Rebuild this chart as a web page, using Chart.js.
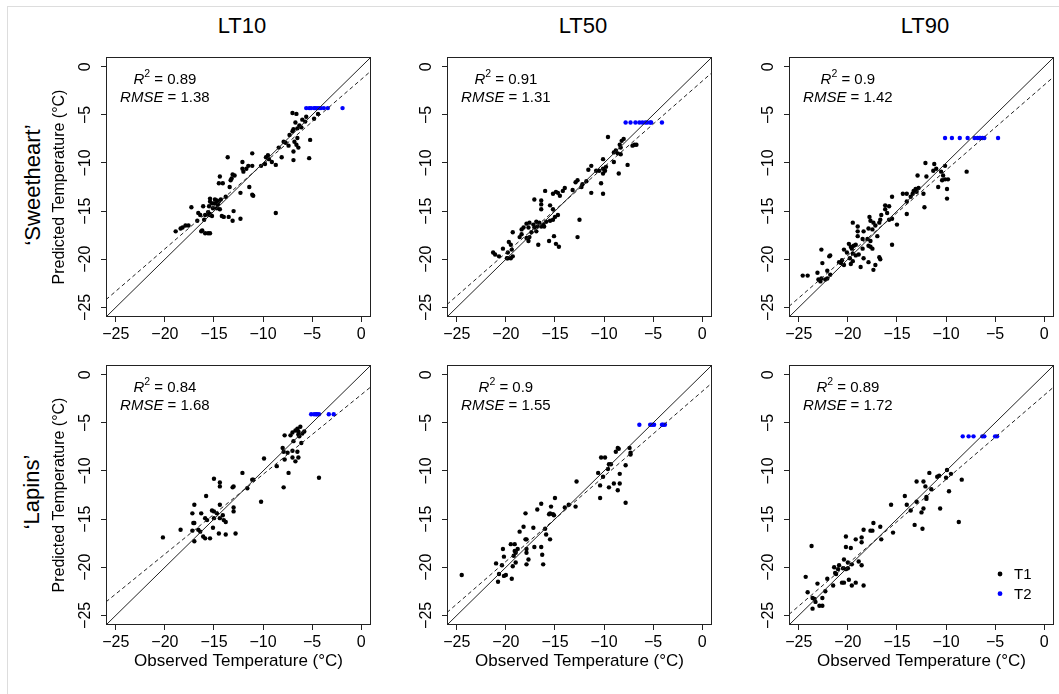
<!DOCTYPE html>
<html lang="en">
<head>
<meta charset="UTF-8">
<title>Observed vs predicted LT</title>
<script src="https://cdn.jsdelivr.net/npm/chart.js@4"></script>
<style>
  html, body { margin: 0; padding: 0; background: #fff; }
  body { width: 1059px; height: 694px; position: relative; overflow: hidden;
         font-family: 'Liberation Sans', Arial, Helvetica, sans-serif; color: #000; }
  .frame { position: absolute; left: 7px; top: 6px; right: 0; bottom: 0;
           border-left: 1px solid #ddd; border-top: 1px solid #ddd; }
  canvas { position: absolute; }
  .colTitle { position: absolute; font-size: 22px; transform: translate(-50%, -50%); white-space: nowrap; }
  .rowTitle { position: absolute; font-size: 22px; transform: translate(-50%, -50%) rotate(-90deg); white-space: nowrap; }
</style>
</head>
<body>
<div class="frame"></div>
<div class="colTitle" style="left:242px; top:26px">LT10</div>
<div class="colTitle" style="left:583px; top:26px">LT50</div>
<div class="colTitle" style="left:925px; top:26px">LT90</div>
<div class="rowTitle" style="left:33px; top:185px">‘Sweetheart’</div>
<div class="rowTitle" style="left:32px; top:492px">‘Lapins’</div>

<script>
// ---- data: [observed, predicted] in °C ----
const sweetLT10_T1 = [[-4.4,-4.9],[-4.8,-5.4],[-5.6,-5.2],[-6.0,-5.5],[-7.0,-4.8],[-6.6,-4.9],[-5.7,-5.7],[-6.7,-5.8],[-6.3,-6.1],[-6.5,-6.4],[-6.9,-6.5],[-7.0,-6.7],[-6.1,-6.3],[-7.3,-7.1],[-5.2,-7.6],[-6.5,-7.4],[-6.8,-7.8],[-7.7,-7.9],[-7.9,-7.8],[-7.4,-8.2],[-6.6,-8.1],[-6.4,-8.4],[-8.4,-8.4],[-6.9,-8.8],[-5.3,-9.5],[-6.9,-9.7],[-8.1,-9.4],[-9.5,-9.2],[-9.7,-9.4],[-9.4,-9.6],[-9.8,-10.1],[-9.1,-9.9],[-8.7,-10.2],[-10.2,-10.3],
  [-13.6,-9.4],[-11.1,-9.0],[-12.1,-9.9],[-11.5,-10.3],[-11.1,-10.3],[-11.7,-10.6],[-12.1,-10.6],[-12.0,-10.9],[-12.9,-11.3],[-13.1,-11.2],[-14.4,-11.4],[-13.2,-11.6],[-13.3,-11.8],[-14.5,-12.1],[-14.1,-12.1],[-11.4,-12.5],[-12.3,-13.1],[-11.1,-13.3],[-11.0,-13.4],[-13.4,-12.5],[-13.8,-13.5],[-14.3,-13.8],[-15.4,-13.7],[-15.4,-14.0],[-14.9,-13.8],[-14.7,-13.9],[-14.5,-14.0],[-15.2,-14.2],[-15.0,-14.2],[-14.8,-14.2],[-14.6,-14.3],[-15.5,-14.5],[-15.1,-14.7],[-14.7,-14.7],[-14.4,-14.8],[-16.1,-14.5],[-15.6,-15.1],[-16.6,-15.2],[-16.4,-15.4],[-15.9,-15.4],[-15.5,-15.4],[-15.4,-15.3],[-13.0,-15.0],[-14.2,-15.5],[-14.0,-15.6],[-13.5,-15.6],[-13.1,-16.0],[-12.3,-15.8],[-8.7,-15.2],[-16.0,-15.9],[-15.2,-15.5],[-17.3,-14.6],[-17.9,-16.5],[-18.2,-16.7],[-18.4,-16.8],[-18.9,-17.1],[-17.6,-16.5],[-16.3,-17.1],[-16.2,-17.0],[-15.9,-17.3],[-15.6,-17.3],[-15.4,-17.3],[-16.7,-16.0]];
const sweetLT10_T2 = [[-5.6,-4.3],[-5.3,-4.3],[-5.1,-4.3],[-4.8,-4.3],[-4.7,-4.3],[-4.5,-4.3],[-4.3,-4.3],[-4.1,-4.3],[-3.8,-4.3],[-3.4,-4.3],[-1.9,-4.3]];

const sweetLT50_T1 = [[-9.6,-7.3],[-8.0,-7.5],[-8.2,-7.7],[-8.4,-8.1],[-6.9,-8.1],[-6.7,-8.1],[-7.1,-8.2],[-8.3,-8.4],[-8.8,-8.7],[-9.0,-8.9],[-8.6,-9.0],[-8.3,-9.1],[-7.6,-10.2],[-10.1,-9.6],[-9.0,-9.9],[-9.8,-10.4],[-10.1,-10.6],[-9.9,-10.8],[-10.5,-10.8],[-10.8,-10.8],[-11.3,-10.3],[-11.6,-10.7],[-8.5,-11.1],[-10.1,-11.1],[-10.3,-12.1],[-11.8,-11.9],[-12.2,-12.2],[-12.3,-12.5],[-12.7,-11.8],[-12.9,-12.0],[-13.2,-12.8],[-11.3,-13.1],[-10.1,-13.2],[-14.0,-12.6],[-14.2,-12.9],[-14.9,-13.0],[-14.7,-13.1],[-14.5,-13.4],[-15.2,-13.2],[-16.0,-12.9],[-17.1,-13.8],[-16.4,-13.9],[-16.4,-14.3],[-16.4,-14.8],[-15.5,-14.4],[-15.2,-14.8],[-15.0,-15.6],[-14.7,-15.4],[-12.5,-15.9],[-12.7,-17.7],[-15.2,-15.9],[-15.5,-16.0],[-15.9,-16.1],[-16.2,-16.4],[-16.6,-16.2],[-16.9,-16.1],[-17.2,-16.4],[-17.6,-16.2],[-17.9,-16.3],[-18.2,-16.7],[-18.4,-16.9],[-17.7,-16.7],[-17.1,-16.7],[-16.8,-16.6],[-16.4,-16.6],[-16.1,-16.6],[-17.4,-17.2],[-16.9,-17.1],[-17.6,-17.7],[-17.9,-17.8],[-17.7,-18.1],[-16.7,-18.5],[-15.6,-18.1],[-15.1,-17.6],[-14.9,-18.4],[-14.6,-18.7],[-19.3,-17.2],[-18.4,-17.4],[-19.7,-18.2],[-19.5,-18.5],[-19.4,-19.0],[-19.8,-19.3],[-19.3,-19.7],[-19.5,-19.9],[-19.8,-19.9],[-19.9,-19.9],[-20.3,-18.9],[-20.7,-19.7],[-21.3,-19.3],[-21.1,-19.5],[-18.6,-17.7]];
const sweetLT50_T2 = [[-7.8,-5.8],[-7.3,-5.8],[-6.8,-5.8],[-6.4,-5.8],[-6.1,-5.8],[-5.8,-5.8],[-5.6,-5.8],[-5.3,-5.8],[-5.2,-5.8],[-4.1,-5.8]];

const sweetLT90_T1 = [[-12.1,-10.0],[-11.2,-10.1],[-10.1,-10.3],[-11.0,-10.6],[-11.3,-10.8],[-10.5,-10.9],[-10.3,-11.3],[-7.9,-10.9],[-10.1,-11.7],[-9.8,-11.7],[-10.4,-11.8],[-10.8,-12.5],[-9.9,-12.7],[-9.9,-13.7],[-12.9,-11.3],[-12.0,-11.4],[-12.8,-12.6],[-13.1,-12.7],[-13.3,-12.9],[-13.6,-13.5],[-13.4,-13.2],[-13.0,-13.0],[-12.3,-13.2],[-14.4,-13.2],[-14.0,-13.2],[-14.0,-14.0],[-12.2,-14.6],[-14.0,-15.3],[-15.5,-13.5],[-15.8,-14.5],[-16.2,-14.4],[-16.2,-14.8],[-16.0,-15.2],[-16.6,-15.4],[-16.7,-15.9],[-15.8,-15.9],[-15.5,-15.8],[-15.0,-16.4],[-15.5,-18.5],[-17.8,-15.6],[-17.7,-16.0],[-17.9,-16.8],[-17.4,-16.2],[-17.2,-16.5],[-17.0,-17.6],[-16.8,-16.2],[-17.5,-16.9],[-18.0,-17.9],[-17.9,-18.6],[-17.7,-18.7],[-17.5,-18.9],[-16.8,-19.8],[-16.7,-20.0],[-19.5,-16.2],[-19.0,-16.6],[-19.0,-17.1],[-19.0,-17.6],[-18.4,-17.1],[-18.5,-17.9],[-19.2,-18.5],[-19.4,-18.6],[-19.9,-18.4],[-19.7,-18.7],[-19.6,-18.9],[-20.4,-19.0],[-20.1,-19.3],[-19.5,-19.4],[-19.2,-19.6],[-18.9,-19.5],[-18.4,-19.9],[-18.5,-18.9],[-17.7,-18.1],[-19.8,-19.9],[-19.5,-20.2],[-20.6,-20.1],[-20.7,-20.4],[-20.4,-20.6],[-19.7,-20.5],[-18.7,-20.8],[-17.9,-20.3],[-17.2,-20.6],[-17.4,-21.1],[-21.9,-19.7],[-22.7,-19.0],[-21.8,-19.6],[-22.6,-20.4],[-20.9,-20.3],[-23.1,-21.4],[-22.1,-21.2],[-21.8,-21.6],[-24.6,-21.7],[-24.1,-21.7],[-23.0,-22.1],[-22.7,-22.0],[-22.3,-22.1],[-22.1,-22.0],[-22.8,-22.3]];
const sweetLT90_T2 = [[-10.1,-7.4],[-9.4,-7.4],[-8.6,-7.4],[-7.8,-7.4],[-7.1,-7.4],[-6.8,-7.4],[-6.6,-7.4],[-6.5,-7.4],[-6.3,-7.4],[-6.1,-7.4],[-4.7,-7.4]];

const lapinsLT10_T1 = [[-6.2,-5.4],[-6.5,-5.6],[-6.4,-5.9],[-6.7,-5.8],[-7.0,-6.0],[-5.8,-5.9],[-6.0,-6.1],[-6.4,-6.2],[-6.3,-6.4],[-7.8,-6.3],[-7.2,-6.3],[-6.9,-6.9],[-6.1,-7.1],[-8.0,-7.6],[-7.9,-8.0],[-7.5,-8.1],[-7.0,-7.9],[-6.5,-8.0],[-7.0,-8.6],[-6.4,-8.6],[-6.7,-9.0],[-7.8,-8.8],[-8.6,-9.5],[-7.4,-10.2],[-7.9,-11.7],[-9.9,-8.7],[-4.3,-10.7],[-11.1,-10.9],[-11.6,-11.8],[-12.1,-10.2],[-13.0,-11.6],[-13.1,-11.7],[-11.0,-10.9],[-10.2,-13.2],[-14.4,-11.2],[-14.4,-11.6],[-15.0,-10.8],[-15.8,-12.6],[-17.0,-13.5],[-14.4,-13.5],[-14.7,-14.4],[-15.2,-14.1],[-15.0,-14.2],[-13.0,-13.8],[-13.0,-14.2],[-14.1,-14.6],[-14.0,-15.1],[-13.8,-15.3],[-14.4,-14.9],[-15.0,-14.9],[-15.7,-15.1],[-15.9,-14.9],[-16.3,-14.4],[-17.2,-14.4],[-17.0,-15.4],[-17.1,-15.4],[-17.2,-16.2],[-16.6,-16.1],[-16.4,-16.3],[-18.4,-16.1],[-17.0,-17.3],[-16.1,-16.8],[-15.9,-17.0],[-15.4,-17.0],[-15.1,-15.9],[-14.5,-16.5],[-13.8,-16.6],[-12.8,-16.5],[-20.2,-16.9]];
const lapinsLT10_T2 = [[-5.1,-4.1],[-4.8,-4.1],[-4.6,-4.1],[-4.5,-4.1],[-4.3,-4.1],[-3.3,-4.1],[-2.8,-4.1]];

const lapinsLT50_T1 = [[-8.6,-7.6],[-8.5,-7.7],[-8.8,-8.0],[-7.4,-7.6],[-7.3,-8.1],[-7.3,-8.3],[-10.3,-8.6],[-9.9,-8.6],[-9.5,-9.3],[-9.3,-9.3],[-7.8,-9.4],[-9.6,-9.8],[-10.6,-10.2],[-10.1,-10.6],[-8.4,-10.3],[-10.4,-11.5],[-9.5,-11.7],[-9.0,-11.3],[-8.4,-11.3],[-8.6,-12.0],[-10.4,-12.8],[-7.8,-13.3],[-12.8,-11.1],[-12.9,-13.7],[-13.6,-13.5],[-14.0,-13.8],[-15.0,-12.8],[-15.4,-13.7],[-15.5,-14.4],[-15.6,-14.5],[-15.2,-14.5],[-15.1,-14.6],[-16.4,-13.4],[-16.8,-14.0],[-18.0,-14.4],[-17.2,-15.9],[-18.2,-15.8],[-18.6,-16.3],[-15.9,-16.6],[-16.0,-16.0],[-15.5,-17.1],[-17.9,-17.1],[-18.0,-17.1],[-19.5,-17.6],[-19.1,-17.6],[-20.3,-18.1],[-20.2,-18.9],[-19.1,-18.3],[-19.0,-18.5],[-18.8,-18.1],[-19.2,-18.8],[-19.0,-19.5],[-19.3,-19.9],[-17.9,-18.1],[-17.9,-18.5],[-17.7,-19.2],[-17.9,-19.7],[-17.1,-17.9],[-16.4,-17.9],[-16.3,-18.7],[-16.2,-19.7],[-21.0,-19.6],[-20.4,-19.8],[-20.7,-20.7],[-20.2,-20.9],[-20.0,-20.8],[-19.4,-21.2],[-20.8,-21.5],[-24.5,-20.8]];
const lapinsLT50_T2 = [[-6.4,-5.2],[-5.3,-5.2],[-5.1,-5.2],[-4.9,-5.2],[-4.1,-5.2],[-4.0,-5.2],[-3.8,-5.2]];

const lapinsLT90_T1 = [[-9.9,-9.9],[-9.5,-10.3],[-10.7,-10.5],[-10.9,-10.6],[-10.0,-10.7],[-8.4,-10.9],[-11.7,-10.2],[-13.0,-11.1],[-12.3,-11.1],[-12.1,-11.6],[-11.5,-11.9],[-9.7,-12.1],[-14.2,-12.6],[-12.0,-12.7],[-12.0,-12.9],[-13.0,-13.2],[-14.0,-13.5],[-13.6,-14.1],[-12.5,-14.3],[-12.3,-13.9],[-10.6,-13.9],[-15.6,-13.5],[-8.7,-15.3],[-13.2,-15.6],[-12.4,-16.0],[-15.4,-16.4],[-17.4,-15.4],[-16.7,-15.8],[-17.7,-16.2],[-17.5,-16.2],[-16.6,-17.1],[-18.4,-16.1],[-18.6,-16.9],[-19.2,-17.1],[-18.6,-17.4],[-20.2,-16.8],[-20.2,-17.9],[-19.7,-18.0],[-20.4,-19.2],[-18.9,-19.4],[-18.6,-19.8],[-19.6,-19.7],[-20.0,-19.5],[-20.2,-20.2],[-20.0,-20.1],[-20.5,-20.1],[-20.9,-19.8],[-21.0,-20.2],[-21.4,-20.0],[-21.3,-20.6],[-21.2,-20.7],[-20.6,-21.6],[-20.4,-21.6],[-19.6,-21.9],[-19.9,-21.3],[-19.2,-21.6],[-18.4,-21.9],[-21.5,-21.9],[-22.1,-21.2],[-23.1,-21.7],[-22.3,-22.5],[-22.6,-23.2],[-23.4,-23.3],[-23.3,-23.6],[-23.6,-24.3],[-22.9,-24.0],[-22.6,-24.0],[-23.7,-17.8],[-24.3,-21.0],[-24.1,-22.6],[-23.6,-23.2]];
const lapinsLT90_T2 = [[-8.3,-6.4],[-7.7,-6.4],[-7.2,-6.4],[-6.3,-6.4],[-6.1,-6.4],[-5.0,-6.4],[-4.8,-6.4]];

// fitted (dashed) line: predicted value at x = -26 and x = 1, panel order LT10, LT50, LT90 then Lapins
const fitAtLeft  = [-24.2, -24.7, -24.9, -23.6, -24.7, -24.9];
const fitAtRight = [-0.44, -0.61, -1.02, -1.25, -0.85, -1.25];
const r2Labels   = ['0.89', '0.91', '0.9', '0.84', '0.9', '0.89'];
const rmseLabels = ['1.38', '1.31', '1.42', '1.68', '1.55', '1.72'];
const tickValues = [-25, -20, -15, -10, -5, 0];
const legendLabels = ['T1', 'T2'];

// ---- layout ----
const FONT = "'Liberation Sans', Arial, Helvetica, sans-serif";
Chart.defaults.font.family = FONT;
Chart.defaults.color = '#000';
const S = 265;                  // plot box size
const colLeft = [106, 447, 789];
const rowTop = [52, 360];
const lineCol = '#222';

const fmt = v => (v < 0 ? '\u2212' + (-v) : String(v));
const setTicks = s => { s.ticks = tickValues.map(v => ({ value: v })); };

function drawParts(ctx, parts, cx, cy) {
    let total = 0;
    parts.forEach(p => { ctx.font = p.font; p.w = ctx.measureText(p.t).width; total += p.w; });
    let x = cx - total / 2;
    ctx.textAlign = 'left';
    ctx.textBaseline = 'middle';
    ctx.fillStyle = '#000';
    parts.forEach(p => { ctx.font = p.font; ctx.fillText(p.t, x, cy + (p.dy || 0)); x += p.w; });
}

function makePanel(idx, row, col, t1, t2, showLegend) {
    const L = colLeft[col], T = rowTop[row];
    const axisW = 66, padTop = 6, padRight = 6;
    const axisH = row === 1 ? 64 : 30;
    const cv = document.createElement('canvas');
    cv.width = axisW + S + padRight;
    cv.height = padTop + S + axisH;
    cv.style.left = (L - axisW) + 'px';
    cv.style.top = (T - padTop) + 'px';
    document.body.appendChild(cv);

    const boxPlugin = {
        id: 'box' + idx,
        afterDraw(chart) {
            const a = chart.chartArea, ctx = chart.ctx;
            const xs = chart.scales.x, ys = chart.scales.y;
            ctx.save();
            ctx.strokeStyle = lineCol;
            ctx.lineWidth = 1;
            ctx.strokeRect(Math.round(a.left) + 0.5, Math.round(a.top) + 0.5, Math.round(a.width) - 1, Math.round(a.height) - 1);

            const norm = '15px ' + FONT, ital = 'italic 15px ' + FONT, small = '10.5px ' + FONT;
            const cx = xs.getPixelForValue(-20);
            drawParts(ctx, [{ t: 'R', font: ital }, { t: '2', font: small, dy: -6 }, { t: ' = ' + r2Labels[idx], font: norm }],
                cx, ys.getPixelForValue(-1.35));
            drawParts(ctx, [{ t: 'RMSE', font: ital }, { t: ' = ' + rmseLabels[idx], font: norm }],
                cx, ys.getPixelForValue(-3.2));

            if (showLegend) {
                const lx = xs.getPixelForValue(-4.5);
                [[-20.7, '#000'], [-22.75, '#0000ff']].forEach((e, i) => {
                    const ly = ys.getPixelForValue(e[0]);
                    ctx.fillStyle = e[1];
                    ctx.beginPath(); ctx.arc(lx, ly, 2.4, 0, Math.PI * 2); ctx.fill();
                    ctx.fillStyle = '#000';
                    ctx.font = '15px ' + FONT;
                    ctx.textAlign = 'left'; ctx.textBaseline = 'middle';
                    ctx.fillText(legendLabels[i], lx + 14, ly + 1);
                });
            }
            ctx.restore();
        }
    };

    new Chart(cv, {
        type: 'scatter',
        data: {
            datasets: [
                { type: 'line', data: [{ x: -26, y: -26 }, { x: 1, y: 1 }], borderColor: lineCol, borderWidth: 1, pointRadius: 0 },
                { type: 'line', data: [{ x: -26, y: fitAtLeft[idx] }, { x: 1, y: fitAtRight[idx] }], borderColor: lineCol,
                  borderWidth: 1, borderDash: [4, 3], pointRadius: 0 },
                { data: t1.map(p => ({ x: p[0], y: p[1] })), backgroundColor: '#000', pointRadius: 2.2, borderWidth: 0 },
                { data: t2.map(p => ({ x: p[0], y: p[1] })), backgroundColor: '#0000ff', pointRadius: 2.2, borderWidth: 0 }
            ]
        },
        options: {
            responsive: false,
            animation: false,
            events: [],
            layout: { padding: { left: 0, top: padTop, right: padRight, bottom: 0 } },
            plugins: { legend: { display: false }, tooltip: { enabled: false } },
            scales: {
                x: {
                    type: 'linear', min: -26, max: 1,
                    afterBuildTicks: setTicks,
                    afterFit: s => { s.height = axisH; },
                    grid: { drawOnChartArea: false, drawTicks: true, tickLength: 5, color: lineCol },
                    border: { display: false },
                    ticks: { font: { size: 16 }, padding: 3, maxRotation: 0, autoSkip: false, callback: fmt },
                    title: { display: row === 1, text: 'Observed Temperature (°C)', font: { size: 17 }, padding: { top: 0, bottom: 17 } }
                },
                y: {
                    type: 'linear', min: -26, max: 1,
                    afterBuildTicks: setTicks,
                    afterFit: s => { s.width = axisW; },
                    grid: { drawOnChartArea: false, drawTicks: true, tickLength: 5, color: lineCol },
                    border: { display: false },
                    ticks: { font: { size: 16 }, padding: 1.5, minRotation: 90, maxRotation: 90, crossAlign: 'center',
                             autoSkip: false, callback: fmt },
                    title: { display: col === 0, text: 'Predicted Temperature (°C)', font: { size: 16 }, padding: { top: 10.4, bottom: 0 } }
                }
            }
        },
        plugins: [boxPlugin]
    });
}

makePanel(0, 0, 0, sweetLT10_T1, sweetLT10_T2, false);
makePanel(1, 0, 1, sweetLT50_T1, sweetLT50_T2, false);
makePanel(2, 0, 2, sweetLT90_T1, sweetLT90_T2, false);
makePanel(3, 1, 0, lapinsLT10_T1, lapinsLT10_T2, false);
makePanel(4, 1, 1, lapinsLT50_T1, lapinsLT50_T2, false);
makePanel(5, 1, 2, lapinsLT90_T1, lapinsLT90_T2, true);
</script>
</body>
</html>
